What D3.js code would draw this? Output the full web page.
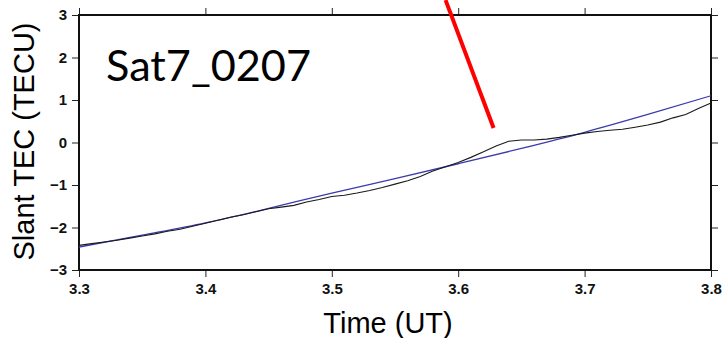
<!DOCTYPE html>
<html>
<head>
<meta charset="utf-8">
<script src="https://cdn.jsdelivr.net/npm/d3@7"></script>
<style>
  body { margin: 0; background: #fff; }
  svg { display: block; }
</style>
</head>
<body>
<svg id="chart"></svg>
<script>
// time (UT) and slant TEC values
const obsTime = [3.30, 3.31, 3.32, 3.33, 3.34, 3.35, 3.36, 3.37, 3.38, 3.39,
  3.40, 3.41, 3.42, 3.43, 3.44, 3.45, 3.46, 3.47, 3.48, 3.49,
  3.50, 3.51, 3.52, 3.53, 3.54, 3.55, 3.56, 3.57, 3.58, 3.59,
  3.60, 3.61, 3.62, 3.63, 3.64, 3.65, 3.66, 3.67, 3.68, 3.69,
  3.70, 3.71, 3.72, 3.73, 3.74, 3.75, 3.76, 3.77, 3.78, 3.79, 3.80];
const obsTec = [-2.42, -2.38, -2.34, -2.30, -2.25, -2.20, -2.15, -2.09, -2.04, -1.97,
  -1.90, -1.83, -1.76, -1.70, -1.63, -1.56, -1.52, -1.48, -1.40, -1.34,
  -1.27, -1.24, -1.19, -1.13, -1.06, -0.98, -0.90, -0.80, -0.67, -0.57,
  -0.47, -0.35, -0.22, -0.08, 0.03, 0.06, 0.06, 0.08, 0.12, 0.17,
  0.22, 0.26, 0.29, 0.31, 0.36, 0.41, 0.48, 0.58, 0.66, 0.80, 0.93];

// fitted background trend (blue)
const fitTime = [3.30, 3.35, 3.40, 3.45, 3.50, 3.55, 3.60, 3.65, 3.70, 3.75, 3.80];
const fitTec = [-2.46, -2.18, -1.89, -1.55, -1.19, -0.85, -0.50, -0.14, 0.24, 0.66, 1.10];

// red pointer line (data coords)
const arrowTime = [3.590, 3.628];
const arrowTec = [3.35, 0.34];

const xTicks = [3.3, 3.4, 3.5, 3.6, 3.7, 3.8];
const yTicks = [-3, -2, -1, 0, 1, 2, 3];
const satLabel = 'Sat7_0207';

const W = 723, H = 338;
const margin = { top: 15, right: 12, bottom: 68, left: 79 };
const width = W - margin.left - margin.right;
const height = H - margin.top - margin.bottom;

const root = d3.select('#chart').attr('width', W).attr('height', H);
const svg = root.append('g').attr('transform', `translate(${margin.left},${margin.top})`);

const x = d3.scaleLinear().domain([3.3, 3.8]).range([0, width]);
const y = d3.scaleLinear().domain([-3, 3]).range([height, 0]);

const tickFont = 'Liberation Sans, Arial, sans-serif';

// axes
const axBottom = svg.append('g')
  .attr('transform', `translate(0,${height})`)
  .call(d3.axisBottom(x).tickValues(xTicks).tickFormat(d3.format('.1f')).tickSize(7).tickPadding(6));
const axLeft = svg.append('g')
  .call(d3.axisLeft(y).tickValues(yTicks).tickFormat(d3.format('d')).tickSize(7).tickPadding(5));
const axTop = svg.append('g')
  .call(d3.axisTop(x).tickValues(xTicks).tickFormat('').tickSize(7));
const axRight = svg.append('g')
  .attr('transform', `translate(${width},0)`)
  .call(d3.axisRight(y).tickValues(yTicks).tickFormat('').tickSize(7));

[axBottom, axLeft, axTop, axRight].forEach((g) => {
  g.select('.domain').remove();
  g.selectAll('.tick line').attr('stroke', '#222').attr('stroke-width', 1);
  g.selectAll('.tick text')
    .style('font-family', tickFont)
    .style('font-size', '15px')
    .style('font-weight', 'bold')
    .attr('fill', '#111');
});

// frame
svg.append('rect')
  .attr('x', 0).attr('y', 0)
  .attr('width', width).attr('height', height)
  .attr('fill', 'none')
  .attr('stroke', '#111')
  .attr('stroke-width', 2);

// lines
const line = d3.line().x((d) => x(d[0])).y((d) => y(d[1]));

svg.append('path')
  .datum(fitTime.map((t, i) => [t, fitTec[i]]))
  .attr('fill', 'none')
  .attr('stroke', '#3b3bb0')
  .attr('stroke-width', 1.3)
  .attr('d', line.curve(d3.curveMonotoneX));

svg.append('path')
  .datum(obsTime.map((t, i) => [t, obsTec[i]]))
  .attr('fill', 'none')
  .attr('stroke', '#1a1a1a')
  .attr('stroke-width', 1.1)
  .attr('d', line.curve(d3.curveLinear));

// red pointer
svg.append('line')
  .attr('x1', x(arrowTime[0])).attr('y1', y(arrowTec[0]))
  .attr('x2', x(arrowTime[1])).attr('y2', y(arrowTec[1]))
  .attr('stroke', '#ff0000')
  .attr('stroke-width', 4);

// satellite label
svg.append('text')
  .attr('x', 27)
  .attr('y', 66)
  .attr('textLength', 205)
  .attr('lengthAdjust', 'spacingAndGlyphs')
  .style('font-family', 'Lato, "Open Sans", sans-serif')
  .style('font-size', '43px')
  .attr('fill', '#000')
  .text(satLabel);

// axis titles
svg.append('text')
  .attr('transform', `translate(${-45},${height / 2 - 1}) rotate(-90)`)
  .attr('text-anchor', 'middle')
  .style('font-family', tickFont)
  .style('font-size', '29px')
  .attr('fill', '#000')
  .text('Slant TEC (TECU)');

svg.append('text')
  .attr('x', 388 - margin.left)
  .attr('y', height + 63)
  .attr('text-anchor', 'middle')
  .style('font-family', tickFont)
  .style('font-size', '29px')
  .attr('fill', '#000')
  .text('Time (UT)');
</script>
</body>
</html>
